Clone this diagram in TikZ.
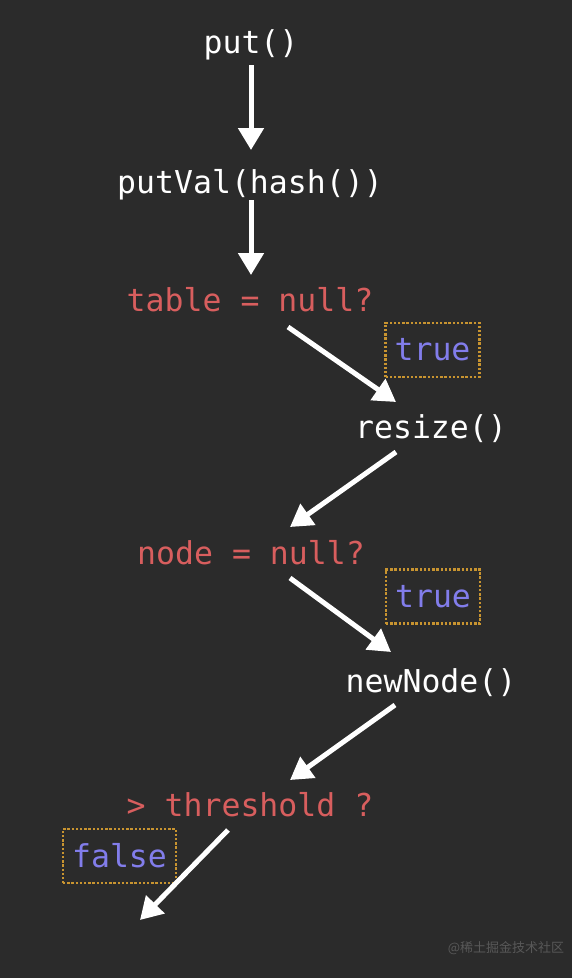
\documentclass[tikz,border=0pt]{standalone}
\usepackage{fontspec}
\newfontfamily\codefont{DejaVu Sans Mono}
\newfontfamily\cjk{Noto Sans CJK SC}
\usetikzlibrary{arrows.meta, calc}
\definecolor{bgdark}{RGB}{43,43,43}
\definecolor{condred}{RGB}{216,94,94}
\definecolor{boolblue}{RGB}{130,125,235}
\definecolor{dotorange}{RGB}{200,148,48}
\definecolor{markgray}{RGB}{88,88,88}

\begin{document}
\begin{tikzpicture}[x=1pt, y=-1pt,
    code/.style={inner sep=0pt, anchor=base, text=white,
      font=\codefont\fontsize{31.5}{36}\selectfont},
    cond/.style={code, text=condred},
    flag/.style={inner xsep=9pt, inner ysep=0pt, minimum height=54pt,
      text=boolblue, draw=dotorange, line width=2.4pt,
      dash pattern=on 2.4pt off 1.8pt,
      font=\codefont\fontsize{31.5}{36}\selectfont},
    flow/.style={draw=white, line width=5pt,
      -{Triangle[length=22pt, width=25pt]}}]
  \fill[bgdark] (0,0) rectangle (572,978);

  \node[code] (put) at (251,53) {put()};
  \node[code] (putval) at (250,193) {putVal(hash())};
  \node[cond] (tbl) at (250,311) {table = null?};
  \node[flag] (true1) at (432.5,350) {true};
  \node[code] (resize) at (431,438) {resize()};
  \node[cond] (nnull) at (251,564) {node = null?};
  \node[flag] (true2) at (433,596.5) {true};
  \node[code] (newnode) at (431,692) {newNode()};
  \node[cond] (thr) at (250,816) {> threshold ?};
  \node[flag] (false1) at (119.5,856) {false};
  \coordinate (out) at (140,920);

  \draw[flow] ($(put.base)+(0,12)$) -- ($(putval.base)+(1,-43)$);
  \draw[flow] ($(putval.base)+(1,7)$) -- ($(tbl.base)+(1,-36)$);
  \draw[flow] ($(tbl.base)+(38,16)$) -- ($(resize.base)+(-35,-36)$);
  \draw[flow] ($(resize.base)+(-35,14)$) -- ($(nnull.base)+(39,-37)$);
  \draw[flow] ($(nnull.base)+(39,14)$) -- ($(newnode.base)+(-40,-40)$);
  \draw[flow] ($(newnode.base)+(-36,13)$) -- ($(thr.base)+(40,-36)$);
  \draw[flow] ($(thr.base)+(-22,14)$) -- (out);

  % watermark
  \node[text=markgray, font=\cjk\fontsize{13}{15}\selectfont, inner sep=0pt]
    (mark) at (506,948) {@稀土掘金技术社区};
\end{tikzpicture}
\end{document}
